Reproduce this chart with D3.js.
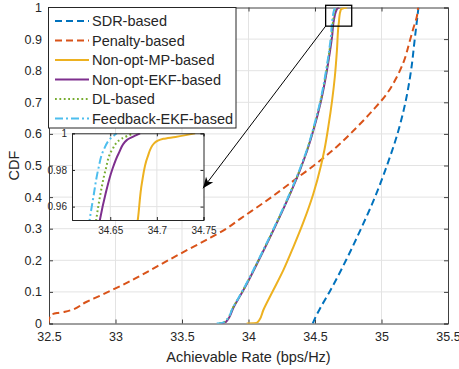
<!DOCTYPE html>
<html>
<head>
<meta charset="utf-8">
<script src="https://cdn.jsdelivr.net/npm/d3@7"></script>
<style>
  body { margin: 0; background: #fff; }
  text { font-family: "Liberation Sans", Arial, sans-serif; fill: #262626; }
</style>
</head>
<body>
<script>
const width = 459;
const height = 369;

// axis ticks
const xTicks = [32.5, 33, 33.5, 34, 34.5, 35, 35.5];
const yTicks = [0, 0.1, 0.2, 0.3, 0.4, 0.5, 0.6, 0.7, 0.8, 0.9, 1];
const insetXTicks = [34.65, 34.7, 34.75];
const insetYTicks = [0.96, 0.98, 1];

const seriesNames = ['SDR-based', 'Penalty-based', 'Non-opt-MP-based', 'Non-opt-EKF-based', 'DL-based', 'Feedback-EKF-based'];

// [rate, cdf]
const sdrBased = [
  [34.483, 0], [34.504, 0.02], [34.541, 0.05], [34.609, 0.1], [34.673, 0.15], [34.733, 0.2],
  [34.846, 0.3], [34.951, 0.4], [35.041, 0.5], [35.12, 0.6], [35.18, 0.7],
  [35.222, 0.8], [35.25, 0.9], [35.264, 0.95], [35.278, 1]
];
const penaltyBased = [
  [32.494, 0], [32.5, 0.012], [32.51, 0.026], [32.56, 0.033], [32.62, 0.037], [32.78, 0.068],
  [32.97, 0.105], [33.16, 0.145], [33.31, 0.18], [33.51, 0.226], [33.69, 0.266],
  [33.84, 0.302], [33.94, 0.332], [34.11, 0.381], [34.26, 0.427], [34.39, 0.468],
  [34.51, 0.506], [34.66, 0.558], [34.81, 0.619], [34.94, 0.677], [35.04, 0.727],
  [35.11, 0.776], [35.17, 0.832], [35.21, 0.89], [35.24, 0.935], [35.265, 0.97], [35.275, 1]
];
const mpBased = [
  [33.986, 0], [34.062, 0.002], [34.08, 0.01], [34.111, 0.042], [34.186, 0.105],
  [34.262, 0.169], [34.337, 0.242], [34.412, 0.32], [34.487, 0.41], [34.545, 0.5],
  [34.571, 0.55], [34.6, 0.622], [34.629, 0.707], [34.649, 0.78], [34.665, 0.865],
  [34.676, 0.94], [34.6796, 0.953], [34.684, 0.973], [34.69, 0.987], [34.697, 0.9945],
  [34.707, 0.997], [34.72, 0.998], [34.731, 0.999], [34.741, 1]
];
const ekfBased = [
  [33.795, 0], [33.83, 0.005], [33.89, 0.053], [33.961, 0.105], [34.077, 0.2],
  [34.187, 0.295], [34.281, 0.38], [34.382, 0.48], [34.443, 0.55], [34.494, 0.62],
  [34.543, 0.7], [34.581, 0.78], [34.612, 0.86], [34.629, 0.91], [34.639, 0.953],
  [34.645, 0.967], [34.652, 0.98], [34.659, 0.989], [34.668, 0.9964], [34.678, 0.999], [34.682, 1]
];
const dlBased = [
  [33.78, 0], [33.82, 0.005], [33.887, 0.053], [33.959, 0.105], [34.075, 0.2],
  [34.185, 0.295], [34.279, 0.38], [34.38, 0.48], [34.441, 0.55], [34.491, 0.62],
  [34.54, 0.7], [34.578, 0.78], [34.608, 0.86], [34.624, 0.91], [34.635, 0.953],
  [34.639, 0.9655], [34.645, 0.98], [34.652, 0.991], [34.662, 0.997], [34.675, 1]
];
const feedbackBased = [
  [33.761, 0], [33.8, 0.002], [33.823, 0.006], [33.886, 0.053], [33.957, 0.105],
  [34.073, 0.2], [34.183, 0.295], [34.277, 0.38], [34.378, 0.48], [34.439, 0.55],
  [34.489, 0.62], [34.538, 0.7], [34.575, 0.78], [34.605, 0.86], [34.62, 0.91],
  [34.628, 0.953], [34.632, 0.9655], [34.637, 0.98], [34.643, 0.991], [34.65, 0.997], [34.657, 1]
];

// zoom box and inset limits
const zoomBoxX = [34.58, 34.776];
const zoomBoxY = [0.941, 1.007];
const insetXDomain = [34.609, 34.75];
const insetYDomain = [0.9527, 1];
const arrowEnd = [33.658, 0.428];

const colors = ['#0072BD', '#D95319', '#EDB120', '#7E2F8E', '#77AC30', '#4DBEEE'];
const dashes = ['7,4', '7,4', null, null, '1.8,2.6', '8,3,2,3'];
const allSeries = [sdrBased, penaltyBased, mpBased, ekfBased, dlBased, feedbackBased];

const svg = d3.select('body')
  .append('svg')
  .attr('width', width)
  .attr('height', height);

const xScale = d3.scaleLinear().domain([32.5, 35.5]).range([49, 448]);
const yScale = d3.scaleLinear().domain([0, 1]).range([323.5, 7.5]);

const defs = svg.append('defs');
defs.append('clipPath').attr('id', 'mainClip')
  .append('rect')
  .attr('x', xScale(32.5)).attr('y', yScale(1))
  .attr('width', xScale(35.5) - xScale(32.5))
  .attr('height', yScale(0) - yScale(1));

// grid
svg.append('g')
  .selectAll('line')
  .data(xTicks.slice(1, -1))
  .enter()
  .append('line')
  .attr('x1', d => xScale(d)).attr('x2', d => xScale(d))
  .attr('y1', yScale(0)).attr('y2', yScale(1))
  .attr('stroke', '#e3e3e3');
svg.append('g')
  .selectAll('line')
  .data(yTicks.slice(1, -1))
  .enter()
  .append('line')
  .attr('x1', xScale(32.5)).attr('x2', xScale(35.5))
  .attr('y1', d => yScale(d)).attr('y2', d => yScale(d))
  .attr('stroke', '#e3e3e3');

// axes
const xAxis = d3.axisBottom(xScale).tickValues(xTicks).tickSize(-4).tickPadding(9).tickFormat(d => String(d));
const yAxis = d3.axisLeft(yScale).tickValues(yTicks).tickSize(-4).tickPadding(7).tickFormat(d => String(d));

function styleAxis(g) {
  g.selectAll('.domain').attr('stroke', '#404040');
  g.selectAll('.tick line').attr('stroke', '#404040');
  g.selectAll('text').attr('font-size', '12.5px').attr('fill', '#262626')
    .attr('font-family', '"Liberation Sans", Arial, sans-serif');
}

svg.append('g')
  .attr('transform', `translate(0, ${yScale(0)})`)
  .call(xAxis).call(styleAxis);
svg.append('g')
  .attr('transform', `translate(${xScale(32.5)}, 0)`)
  .call(yAxis).call(styleAxis);
svg.append('g')
  .attr('transform', `translate(0, ${yScale(1)})`)
  .call(d3.axisTop(xScale).tickValues(xTicks).tickSize(-4).tickFormat(''))
  .call(styleAxis);
svg.append('g')
  .attr('transform', `translate(${xScale(35.5)}, 0)`)
  .call(d3.axisRight(yScale).tickValues(yTicks).tickSize(-4).tickFormat(''))
  .call(styleAxis);

// curves (cdf rises monotonically, so interpolate rate along cdf)
const line = d3.line()
  .curve(d3.curveMonotoneY)
  .x(d => xScale(d[0]))
  .y(d => yScale(d[1]));

svg.append('g')
  .attr('clip-path', 'url(#mainClip)')
  .selectAll('path')
  .data(allSeries)
  .enter()
  .append('path')
  .attr('d', line)
  .attr('fill', 'none')
  .attr('stroke', (d, i) => colors[i])
  .attr('stroke-width', 2)
  .attr('stroke-dasharray', (d, i) => dashes[i]);

// axis labels
svg.append('text')
  .attr('x', (xScale(32.5) + xScale(35.5)) / 2)
  .attr('y', 362)
  .attr('text-anchor', 'middle')
  .attr('font-size', '14.5px')
  .text('Achievable Rate (bps/Hz)');
svg.append('text')
  .attr('transform', `translate(19, ${(yScale(0) + yScale(1)) / 2}) rotate(-90)`)
  .attr('text-anchor', 'middle')
  .attr('font-size', '14.5px')
  .text('CDF');

// zoom rectangle
svg.append('rect')
  .attr('x', xScale(zoomBoxX[0]))
  .attr('y', yScale(zoomBoxY[1]))
  .attr('width', xScale(zoomBoxX[1]) - xScale(zoomBoxX[0]))
  .attr('height', yScale(zoomBoxY[0]) - yScale(zoomBoxY[1]))
  .attr('fill', 'none')
  .attr('stroke', '#000')
  .attr('stroke-width', 1.3);

// legend
const legend = svg.append('g');
legend.append('rect')
  .attr('x', 48.5).attr('y', 7.5)
  .attr('width', 187.5).attr('height', 120.5)
  .attr('fill', '#fff')
  .attr('stroke', '#262626');
const rows = legend.selectAll('g')
  .data(seriesNames)
  .enter()
  .append('g')
  .attr('transform', (d, i) => `translate(0, ${21 + i * 19.5})`);
rows.append('line')
  .attr('x1', 55).attr('x2', 89)
  .attr('stroke', (d, i) => colors[i])
  .attr('stroke-width', 2)
  .attr('stroke-dasharray', (d, i) => dashes[i]);
rows.append('text')
  .attr('x', 92)
  .attr('dy', '0.36em')
  .attr('font-size', '14.5px')
  .text(d => d);

// inset
const ix = d3.scaleLinear().domain(insetXDomain).range([72, 203.5]);
const iy = d3.scaleLinear().domain(insetYDomain).range([220, 133.3]);

defs.append('clipPath').attr('id', 'insetClip')
  .append('rect')
  .attr('x', ix.range()[0]).attr('y', iy.range()[1])
  .attr('width', ix.range()[1] - ix.range()[0])
  .attr('height', iy.range()[0] - iy.range()[1]);

const inset = svg.append('g');
inset.append('rect')
  .attr('x', ix.range()[0]).attr('y', iy.range()[1])
  .attr('width', ix.range()[1] - ix.range()[0])
  .attr('height', iy.range()[0] - iy.range()[1])
  .attr('fill', '#fff');

inset.append('g')
  .selectAll('line')
  .data(insetXTicks.slice(0, -1))
  .enter()
  .append('line')
  .attr('x1', d => ix(d)).attr('x2', d => ix(d))
  .attr('y1', iy.range()[0]).attr('y2', iy.range()[1])
  .attr('stroke', '#e3e3e3');
inset.append('g')
  .selectAll('line')
  .data(insetYTicks.slice(0, -1))
  .enter()
  .append('line')
  .attr('x1', ix.range()[0]).attr('x2', ix.range()[1])
  .attr('y1', d => iy(d)).attr('y2', d => iy(d))
  .attr('stroke', '#e3e3e3');

const insetLine = d3.line()
  .curve(d3.curveMonotoneY)
  .x(d => ix(d[0]))
  .y(d => iy(d[1]));

inset.append('g')
  .attr('clip-path', 'url(#insetClip)')
  .selectAll('path')
  .data(allSeries)
  .enter()
  .append('path')
  .attr('d', insetLine)
  .attr('fill', 'none')
  .attr('stroke', (d, i) => colors[i])
  .attr('stroke-width', 2)
  .attr('stroke-dasharray', (d, i) => dashes[i]);

function styleInset(g) {
  g.selectAll('.domain').attr('stroke', '#262626');
  g.selectAll('.tick line').attr('stroke', '#262626');
  g.selectAll('text').attr('font-size', '10px').attr('fill', '#262626')
    .attr('font-family', '"Liberation Sans", Arial, sans-serif');
}

inset.append('g')
  .attr('transform', `translate(0, ${iy.range()[0]})`)
  .call(d3.axisBottom(ix).tickValues(insetXTicks).tickSize(-3).tickPadding(7).tickFormat(d => String(d)))
  .call(styleInset);
inset.append('g')
  .attr('transform', `translate(${ix.range()[0]}, 0)`)
  .call(d3.axisLeft(iy).tickValues(insetYTicks).tickSize(-3).tickPadding(5).tickFormat(d => String(d)))
  .call(styleInset);
inset.append('g')
  .attr('transform', `translate(0, ${iy.range()[1]})`)
  .call(d3.axisTop(ix).tickValues(insetXTicks).tickSize(-3).tickFormat(''))
  .call(styleInset);
inset.append('g')
  .attr('transform', `translate(${ix.range()[1]}, 0)`)
  .call(d3.axisRight(iy).tickValues(insetYTicks).tickSize(-3).tickFormat(''))
  .call(styleInset);

// arrow from zoom box to inset
defs.append('marker')
  .attr('id', 'arrowHead')
  .attr('viewBox', '-12 -6 14 12')
  .attr('markerUnits', 'userSpaceOnUse')
  .attr('markerWidth', 14).attr('markerHeight', 12)
  .attr('orient', 'auto')
  .append('path')
  .attr('d', 'M0,0 L-11,-4.5 L-8,0 L-11,4.5 Z')
  .attr('fill', '#000');

svg.append('line')
  .attr('x1', xScale(zoomBoxX[0])).attr('y1', yScale(zoomBoxY[0]))
  .attr('x2', xScale(arrowEnd[0])).attr('y2', yScale(arrowEnd[1]))
  .attr('stroke', '#000')
  .attr('stroke-width', 1)
  .attr('marker-end', 'url(#arrowHead)');
</script>
</body>
</html>
